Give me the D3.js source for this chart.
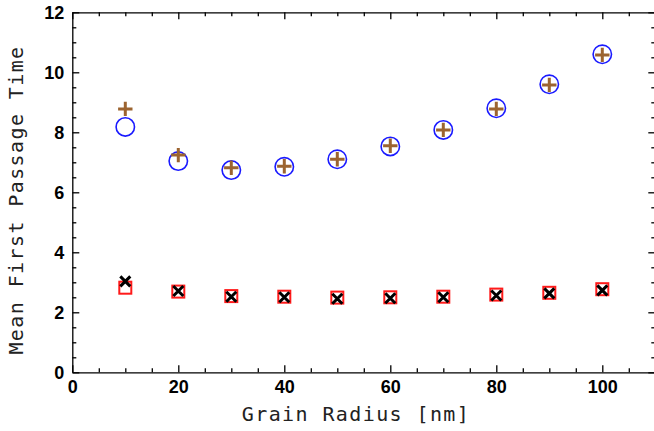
<!DOCTYPE html>
<html>
<head>
<meta charset="utf-8">
<script src="https://cdn.jsdelivr.net/npm/d3@7"></script>
<style>
  body { margin: 0; background: #fff; }
  svg { display: block; }
  .tick text { font-family: "Liberation Sans", Arial, sans-serif; font-weight: bold; font-size: 18px; fill: #000; }
  .axis path, .axis line { stroke: #000; stroke-width: 1.3; }
  .title { font-family: "DejaVu Sans Mono", monospace; font-size: 20px; letter-spacing: 1.4px; fill: #222; }
</style>
</head>
<body>
<div id="chart"></div>
<script>
// Grain radius (nm)
const radius = [10, 20, 30, 40, 50, 60, 70, 80, 90, 100];
// Upper pair of series
const circleVals = [8.18, 7.04, 6.74, 6.85, 7.1, 7.53, 8.08, 8.8, 9.6, 10.6];
const plusVals = [8.78, 7.24, 6.82, 6.87, 7.1, 7.55, 8.08, 8.78, 9.58, 10.58];
// Lower pair of series
const squareVals = [2.82, 2.69, 2.54, 2.52, 2.49, 2.5, 2.52, 2.59, 2.65, 2.77];
const crossVals = [3.03, 2.71, 2.52, 2.5, 2.45, 2.47, 2.5, 2.56, 2.63, 2.73];
// Ticks
const xMajor = [0, 20, 40, 60, 80, 100];
const yMajor = [0, 2, 4, 6, 8, 10, 12];

const width = 654, height = 431;

const svg = d3.select("#chart").append("svg")
    .attr("width", width)
    .attr("height", height);

const x = d3.scaleLinear().domain([0, 110]).range([72.3, 655.3]);
const y = d3.scaleLinear().domain([0, 12]).range([372.3, 12.3]);

const xMinor = d3.range(0, 111, 5).filter(v => v % 20 !== 0);
const yMinor = d3.range(0, 12.01, 0.5).filter(v => v % 2 !== 0);

// Bottom axis
svg.append("g").attr("class", "axis")
    .attr("transform", `translate(0,${y(0)})`)
    .call(d3.axisBottom(x).tickValues(xMajor).tickSizeInner(-7).tickSizeOuter(0).tickPadding(8));
svg.append("g").attr("class", "axis")
    .attr("transform", `translate(0,${y(0)})`)
    .call(d3.axisBottom(x).tickValues(xMinor).tickSizeInner(-4).tickSizeOuter(0).tickFormat(""))
    .select(".domain").remove();

// Top axis
svg.append("g").attr("class", "axis")
    .attr("transform", `translate(0,${y(12)})`)
    .call(d3.axisTop(x).tickValues(xMajor).tickSizeInner(-7).tickSizeOuter(0).tickFormat(""));
svg.append("g").attr("class", "axis")
    .attr("transform", `translate(0,${y(12)})`)
    .call(d3.axisTop(x).tickValues(xMinor).tickSizeInner(-4).tickSizeOuter(0).tickFormat(""))
    .select(".domain").remove();

// Left axis
svg.append("g").attr("class", "axis")
    .attr("transform", `translate(${x(0)},0)`)
    .call(d3.axisLeft(y).tickValues(yMajor).tickSizeInner(-7).tickSizeOuter(0).tickPadding(8));
svg.append("g").attr("class", "axis")
    .attr("transform", `translate(${x(0)},0)`)
    .call(d3.axisLeft(y).tickValues(yMinor).tickSizeInner(-4).tickSizeOuter(0).tickFormat(""))
    .select(".domain").remove();

// Right axis
svg.append("g").attr("class", "axis")
    .attr("transform", `translate(${x(110)},0)`)
    .call(d3.axisRight(y).tickValues(yMajor).tickSizeInner(-7).tickSizeOuter(0).tickFormat(""));
svg.append("g").attr("class", "axis")
    .attr("transform", `translate(${x(110)},0)`)
    .call(d3.axisRight(y).tickValues(yMinor).tickSizeInner(-4).tickSizeOuter(0).tickFormat(""))
    .select(".domain").remove();

const pts = vals => radius.map((r, i) => ({ r: r, v: vals[i] }));

// Circles
svg.append("g").selectAll("circle")
    .data(pts(circleVals))
    .join("circle")
    .attr("cx", d => x(d.r))
    .attr("cy", d => y(d.v))
    .attr("r", 9.2)
    .attr("fill", "none")
    .attr("stroke", "#1a1aff")
    .attr("stroke-width", 1.6);

// Plus signs
const ps = 7.2;
svg.append("g").selectAll("path")
    .data(pts(plusVals))
    .join("path")
    .attr("d", d => `M${x(d.r) - ps},${y(d.v)}H${x(d.r) + ps}M${x(d.r)},${y(d.v) - ps}V${y(d.v) + ps}`)
    .attr("stroke", "#9c6430")
    .attr("stroke-width", 3)
    .attr("fill", "none");

// Squares
const sq = 6;
svg.append("g").selectAll("rect")
    .data(pts(squareVals))
    .join("rect")
    .attr("x", d => x(d.r) - sq)
    .attr("y", d => y(d.v) - sq)
    .attr("width", sq * 2)
    .attr("height", sq * 2)
    .attr("fill", "none")
    .attr("stroke", "#ff1a1a")
    .attr("stroke-width", 2);

// Crosses
const cs = 5;
svg.append("g").selectAll("path")
    .data(pts(crossVals))
    .join("path")
    .attr("d", d => `M${x(d.r) - cs},${y(d.v) - cs}L${x(d.r) + cs},${y(d.v) + cs}M${x(d.r) - cs},${y(d.v) + cs}L${x(d.r) + cs},${y(d.v) - cs}`)
    .attr("stroke", "#000")
    .attr("stroke-width", 3)
    .attr("fill", "none");

// Axis titles
svg.append("text")
    .attr("class", "title")
    .attr("x", 356)
    .attr("y", 421)
    .attr("text-anchor", "middle")
    .text("Grain Radius [nm]");

svg.append("text")
    .attr("class", "title")
    .attr("transform", "translate(23,200) rotate(-90)")
    .attr("text-anchor", "middle")
    .text("Mean First Passage Time");
</script>
</body>
</html>
